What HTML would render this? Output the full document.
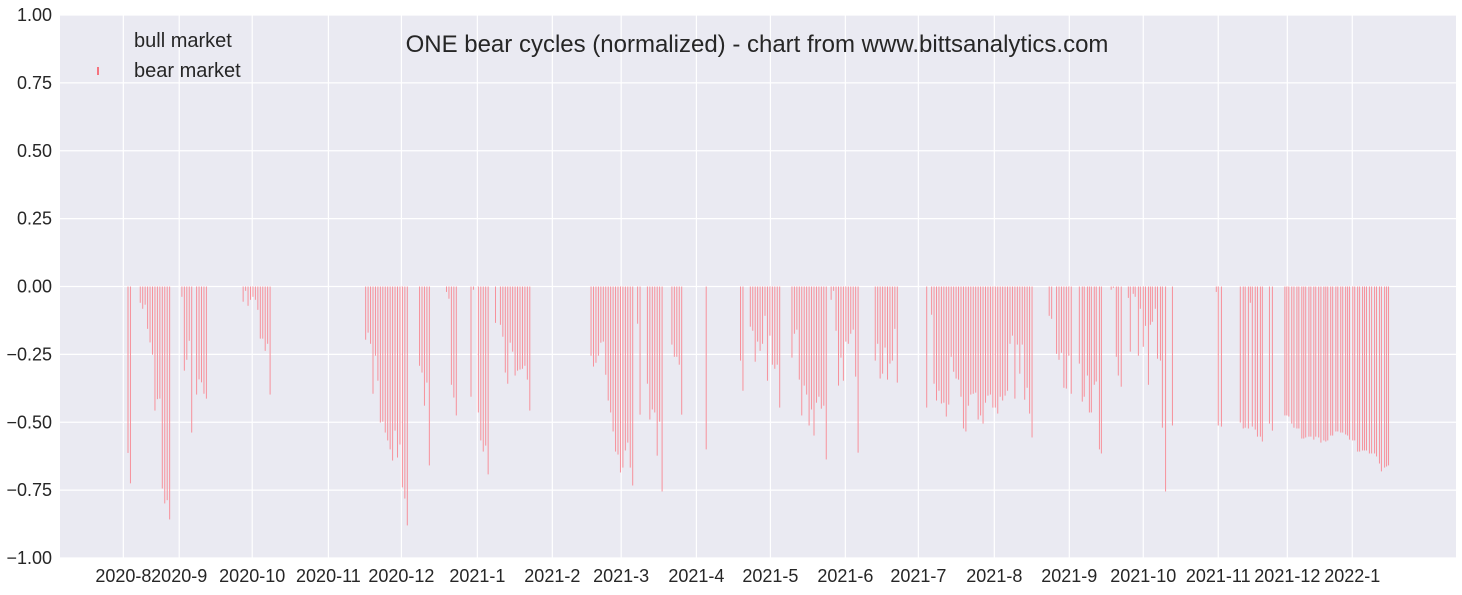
<!DOCTYPE html>
<html><head><meta charset="utf-8"><style>
html,body{margin:0;padding:0;background:#fff;}
svg text{font-family:"Liberation Sans",Arial,sans-serif;fill:#262626;}
</style></head><body>
<svg id="chart" width="1462" height="590" xmlns="http://www.w3.org/2000/svg">
<rect x="60" y="15" width="1396" height="543" fill="#eaeaf2"/>
<g id="grid"></g><g id="bars"></g><g id="axes"></g>
<text x="757" y="52" font-size="24" text-anchor="middle">ONE bear cycles (normalized)  - chart from www.bittsanalytics.com</text>
<g>
<text x="134" y="47" font-size="20">bull market</text>
<rect x="97" y="67" width="2" height="8" fill="#f5737f"/>
<text x="134" y="77" font-size="20">bear market</text>
</g>
</svg>
<script>
const bearDays = [0,1,5,6,7,8,9,10,11,12,13,14,15,16,17,
22,23,24,25,26,28,29,30,31,32,
47,48,49,50,51,52,53,54,55,56,57,58,
97,98,99,100,101,102,103,104,105,106,107,108,109,110,111,112,113,114,
119,120,121,122,123,130,131,132,133,134,
140,141,143,144,145,146,147,
150,152,153,154,155,156,157,158,159,160,161,162,163,164,
189,190,191,192,193,194,195,196,197,198,199,200,201,202,203,204,205,206,208,209,212,213,214,215,216,217,218,222,223,224,225,226,236,
250,251,254,255,256,257,258,259,260,261,262,263,264,265,266,
271,272,273,274,275,276,277,278,279,280,281,282,283,284,285,287,288,289,290,291,292,293,294,295,296,297,298,
305,306,307,308,309,310,311,312,313,314,
326,328,329,330,331,332,333,334,335,336,337,338,339,340,341,342,343,344,345,346,347,348,349,350,351,352,353,354,355,356,357,358,359,360,
361,362,363,364,365,366,367,368,369,
376,377,379,380,381,382,383,384,385,
388.3,389.5,390.3,391.6,392.4,393.2,394.4,395.2,396.5,397.3,
401.3,402.2,403.4,404.2,405.4,408.3,409.1,410.3,411.1,412.4,413.2,414.4,415.3,416.5,417.3,418.1,419.3,420.2,421.4,422.2,423.5,426.3,
444.2,445,446.3,
454,455.2,456,457.3,458.1,458.9,460.1,461,462.2,463,465.9,467.1,
472.2,473,473.8,475,475.9,477.1,477.9,479.1,479.9,480.7,482,482.8,484,484.8,486,486.9,488.1,488.9,489.7,490.9,491.7,493,493.8,495,495.8,497,497.8,498.6,499.9,500.7,501.9,502.7,503.9,504.7,505.5,506.7,507.6,508.8,509.6,510.8,511.6,512.9,513.7,514.5];
const bearValues = [-0.613,-0.725,-0.06,-0.082,-0.067,-0.156,-0.206,-0.251,-0.457,-0.415,-0.413,-0.744,-0.799,-0.787,-0.858,
-0.038,-0.31,-0.27,-0.2,-0.538,-0.398,-0.342,-0.353,-0.395,-0.413,
-0.056,-0.016,-0.071,-0.049,-0.038,-0.049,-0.086,-0.192,-0.192,-0.237,-0.211,-0.398,
-0.196,-0.17,-0.211,-0.395,-0.255,-0.347,-0.501,-0.498,-0.538,-0.567,-0.6,-0.641,-0.531,-0.63,-0.582,-0.74,-0.781,-0.88,
-0.292,-0.317,-0.439,-0.354,-0.659,-0.02,-0.045,-0.362,-0.409,-0.475,
-0.406,-0.012,-0.464,-0.567,-0.608,-0.586,-0.692,
-0.134,-0.141,-0.185,-0.317,-0.358,-0.207,-0.24,-0.328,-0.31,-0.306,-0.303,-0.292,-0.343,-0.457,
-0.255,-0.295,-0.281,-0.255,-0.207,-0.203,-0.325,-0.42,-0.464,-0.534,-0.608,-0.619,-0.685,-0.667,-0.604,-0.575,-0.667,-0.733,-0.137,-0.472,-0.358,-0.49,-0.453,-0.464,-0.623,-0.498,-0.755,-0.214,-0.259,-0.259,-0.288,-0.472,-0.6,
-0.273,-0.384,-0.148,-0.163,-0.277,-0.203,-0.237,-0.211,-0.108,-0.347,-0.181,-0.288,-0.303,-0.288,-0.446,
-0.262,-0.174,-0.159,-0.343,-0.475,-0.365,-0.398,-0.512,-0.453,-0.549,-0.428,-0.406,-0.45,-0.439,-0.637,-0.049,-0.016,-0.163,-0.365,-0.262,-0.347,-0.203,-0.211,-0.174,-0.159,-0.332,-0.612,
-0.273,-0.211,-0.339,-0.321,-0.225,-0.343,-0.284,-0.273,-0.156,-0.354,
-0.446,-0.104,-0.358,-0.42,-0.384,-0.431,-0.428,-0.479,-0.435,-0.259,-0.314,-0.339,-0.343,-0.406,-0.523,-0.534,-0.439,-0.398,-0.395,-0.391,-0.49,-0.475,-0.505,-0.428,-0.402,-0.398,-0.446,-0.446,-0.468,-0.406,-0.42,-0.402,-0.384,-0.211,
-0.181,-0.413,-0.214,-0.321,-0.214,-0.417,-0.373,-0.468,-0.556,
-0.108,-0.119,-0.248,-0.27,-0.244,-0.373,-0.376,-0.255,-0.395,
-0.284,-0.424,-0.406,-0.328,-0.464,-0.464,-0.362,-0.35,-0.6,-0.615,
-0.012,-0.005,-0.259,-0.328,-0.369,-0.042,-0.24,-0.027,-0.038,-0.255,-0.082,-0.222,-0.145,-0.362,-0.141,-0.13,-0.082,-0.266,-0.273,-0.52,-0.755,-0.512,
-0.02,-0.512,-0.516,
-0.501,-0.523,-0.52,-0.523,-0.06,-0.516,-0.527,-0.553,-0.553,-0.571,-0.505,-0.531,
-0.475,-0.475,-0.479,-0.505,-0.52,-0.523,-0.523,-0.56,-0.56,-0.556,-0.553,-0.553,-0.564,-0.553,-0.556,-0.575,-0.567,-0.571,-0.567,-0.549,-0.549,-0.534,-0.534,-0.538,-0.538,-0.545,-0.549,-0.564,-0.567,-0.567,-0.608,-0.608,-0.604,-0.604,-0.604,-0.615,-0.615,-0.615,-0.626,-0.652,-0.681,-0.667,-0.663,-0.659];
const tickLabels = ["2020-8","2020-9","2020-10","2020-11","2020-12","2021-1","2021-2","2021-3","2021-4","2021-5","2021-6","2021-7","2021-8","2021-9","2021-10","2021-11","2021-12","2022-1"];
const tickDays = [-1.9,20.9,50.7,81.8,111.6,142.6,173.2,201.3,232,262.2,292.8,322.6,353.6,384.2,414.4,445,473.2,499.7];
const yTicks = [1,0.75,0.5,0.25,0,-0.25,-0.5,-0.75,-1];

const NS="http://www.w3.org/2000/svg";
const X0=128, DX=2.45, Y0=286.5, YS=271.5;
const x = d => X0 + d*DX;
const y = v => Y0 - v*YS;
function mk(tag, attrs, parent){const e=document.createElementNS(NS,tag);for(const k in attrs)e.setAttribute(k,attrs[k]);parent.appendChild(e);return e;}
const grid=document.getElementById('grid'), bars=document.getElementById('bars'), axes=document.getElementById('axes');
yTicks.forEach(v=>{
  const l=mk('line',{x1:60,x2:1456,y1:y(v),y2:y(v),stroke:'#fff','stroke-width':1.2},grid);
  
  
  const t=mk('text',{x:52,y:y(v)+6,'font-size':18,'text-anchor':'end'},axes);
  t.textContent=v.toFixed(2).replace('-','\u2212');
  
  
});
tickDays.forEach((d,i)=>{
  const l=mk('line',{x1:x(d),x2:x(d),y1:15,y2:558,stroke:'#fff','stroke-width':1.2},grid);
  
  
  const t=mk('text',{x:x(d),y:582,'font-size':18,'text-anchor':'middle'},axes);
  t.textContent=tickLabels[i];
  
  
});
bearDays.forEach((d,i)=>{
  const v=bearValues[i];
  const r=mk('rect',{x:x(d)-0.5,y:Math.min(y(0),y(v)),width:1,height:Math.abs(y(v)-y(0)),fill:'#f7919b'},bars);
  
  
});
</script>
</body></html>
